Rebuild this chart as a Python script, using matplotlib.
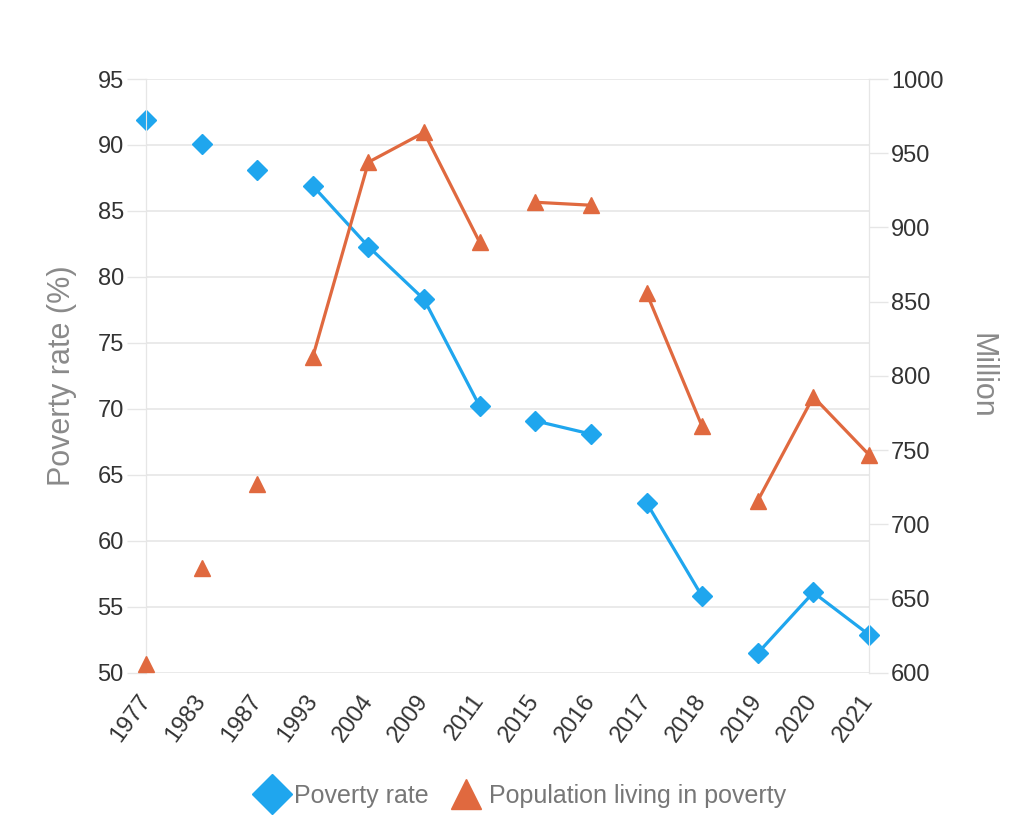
import numpy as np
import matplotlib.pyplot as plt
from matplotlib.lines import Line2D

plt.rcParams['font.family'] = ['Liberation Sans', 'DejaVu Sans']

years = ['1977', '1983', '1987', '1993', '2004', '2009', '2011',
         '2015', '2016', '2017', '2018', '2019', '2020', '2021']
poverty_rate = [91.9, 90.1, 88.1, 86.9, 82.3, 78.3, 70.2,
                69.1, 68.1, 62.9, 55.8, 51.5, 56.1, 52.9]
population_mn = [606, 671, 727, 813, 944, 964, 890,
                 917, 915, 856, 766, 716, 786, 747]
# which points are joined by a line (same id = connected)
segment = [0, 1, 2, 3, 3, 3, 3, 4, 4, 5, 5, 6, 6, 6]

blue = '#1fa6ee'
orange = '#e0693f'
grid_c = '#e6e6e6'
text_c = '#333333'
label_c = '#8a8a8a'

fig = plt.figure(figsize=(10.24, 8.36), dpi=100)
ax = fig.add_axes([0.1426, 0.195, 0.706, 0.7105])
ax2 = ax.twinx()

x = np.arange(len(years))
seg = np.array(segment)
pr = np.array(poverty_rate)
pop = np.array(population_mn)

for s in np.unique(seg):
    m = seg == s
    ax.plot(x[m], pr[m], color=blue, lw=2.3, marker='D', ms=10,
            zorder=3, clip_on=False)
    ax2.plot(x[m], pop[m], color=orange, lw=2.3, marker='^', ms=11,
             zorder=3, clip_on=False)

ax.set_xlim(0, len(years) - 1)
ax.set_ylim(50, 95)
ax.set_yticks(np.arange(50, 96, 5))
ax2.set_ylim(600, 1000)
ax2.set_yticks(np.arange(600, 1001, 50))

ax.set_xticks(x)
ax.set_xticklabels(years, rotation=54, ha='right', va='center',
                   rotation_mode='anchor')
ax.tick_params(axis='x', length=0, pad=17, labelsize=17, labelcolor=text_c)
ax.tick_params(axis='y', length=14, width=1, color=grid_c, pad=2,
               labelsize=17, labelcolor=text_c)
ax2.tick_params(axis='y', length=14, width=1, color=grid_c, pad=2,
                labelsize=17, labelcolor=text_c)

ax.grid(axis='y', color=grid_c, lw=1.2)
ax.set_axisbelow(True)
for a in (ax, ax2):
    for side in ('top', 'bottom'):
        a.spines[side].set_visible(False)
    a.spines['left'].set_color(grid_c)
    a.spines['right'].set_color(grid_c)

ax.set_ylabel('Poverty rate (%)', fontsize=22, color=label_c, va='center')
ax.yaxis.set_label_coords(-0.116, 0.5)
ax2.set_ylabel('Million', fontsize=22, color=label_c, rotation=270,
               va='center')
ax2.yaxis.set_label_coords(1.155, 0.5)

handles = [Line2D([], [], ls='none', marker='D', ms=20, color=blue),
           Line2D([], [], ls='none', marker='^', ms=22, color=orange)]
leg = fig.legend(handles, ['Poverty rate', 'Population living in poverty'],
                 loc='center', bbox_to_anchor=(0.508, 0.048), ncol=2,
                 frameon=False, fontsize=18, handletextpad=0.2,
                 columnspacing=0.8, handlelength=1.4)
for t in leg.get_texts():
    t.set_color('#777777')

fig.savefig('out.png', dpi=100)
